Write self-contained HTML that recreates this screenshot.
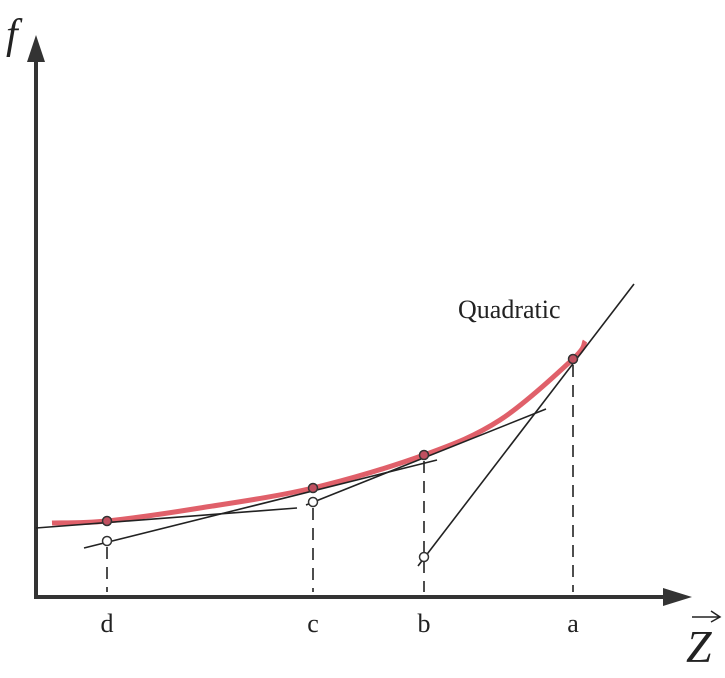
<!DOCTYPE html>
<html><head><meta charset="utf-8"><style>
html,body{margin:0;padding:0;background:#fff;}
svg{display:block;font-family:"Liberation Serif",serif;}
</style></head><body>
<svg id="chart" width="725" height="678" viewBox="0 0 725 678">
<g id="axes">
<line x1="36" y1="598" x2="36" y2="60" stroke="#333" stroke-width="4"/>
<polygon points="36,35 27,62 45,62" fill="#333"/>
<line x1="34" y1="597" x2="665" y2="597" stroke="#333" stroke-width="4"/>
<polygon points="692,597 663,588 663,606" fill="#333"/>
<text x="6" y="48" font-size="42" font-style="italic" fill="#222">f</text>
<text x="686" y="662" font-size="46" font-style="italic" fill="#222">Z</text>
<line x1="692" y1="617" x2="720" y2="617" stroke="#222" stroke-width="1.5"/>
<polyline points="711,611 720,617 711,622" fill="none" stroke="#222" stroke-width="1.5"/>
</g>
<g id="marks"></g>
<text x="458" y="318" font-size="26" fill="#222">Quadratic</text>
</svg>
<script>
const categories = ["d","c","b","a"];
const zValues = [71, 277, 388, 537];
const fValues = [76, 109, 142, 238];
const approxValues = [56, 95, 40];
const curveZ = [16, 71, 164, 277, 388, 464, 537, 549];
const curveF = [74, 76, 89, 109, 142, 177, 238, 256];
const tangentZStart = [0, 48, 270, 382];
const tangentZEnd = [261, 401, 510, 598];
const tangentFStart = [69, 49, 92, 31];
const tangentFEnd = [89, 137, 188, 313];

const xS = v => 36 + v;
const yS = v => 597 - v;
const NS = "http://www.w3.org/2000/svg";
const g = document.getElementById("marks");
function mk(tag, attrs){const e=document.createElementNS(NS,tag);for(const k in attrs)e.setAttribute(k,attrs[k]);g.appendChild(e);return e;}

const pts = curveZ.map((z,i)=>[xS(z), yS(curveF[i])]);
let d = "M"+pts[0][0]+","+pts[0][1];
for(let i=0;i<pts.length-1;i++){
  const p0=pts[Math.max(0,i-1)],p1=pts[i],p2=pts[i+1],p3=pts[Math.min(pts.length-1,i+2)];
  const c1=[p1[0]+(p2[0]-p0[0])/6,p1[1]+(p2[1]-p0[1])/6];
  const c2=[p2[0]-(p3[0]-p1[0])/6,p2[1]-(p3[1]-p1[1])/6];
  d+=` C${c1[0]},${c1[1]} ${c2[0]},${c2[1]} ${p2[0]},${p2[1]}`;
}
const curve = mk("path",{d:d,fill:"none",stroke:"#e0606a","stroke-width":5});



for(let i=0;i<tangentZStart.length;i++){
  const l = mk("line",{x1:xS(tangentZStart[i]),y1:yS(tangentFStart[i]),x2:xS(tangentZEnd[i]),y2:yS(tangentFEnd[i]),stroke:"#222","stroke-width":1.6});
  
  
}

categories.forEach((c,i)=>{
  const x = xS(zValues[i]);
  const top = (i===0 || i===1) ? yS(approxValues[i]) : yS(fValues[i]);
  const dl = mk("line",{x1:x,y1:top+6,x2:x,y2:592,stroke:"#222","stroke-width":1.6,"stroke-dasharray":"12,8"});
  
  
  const t = mk("text",{x:x,y:632,"font-size":26,"text-anchor":"middle",fill:"#222"});
  t.textContent = c;
  
  
  const p = mk("circle",{cx:x,cy:yS(fValues[i]),r:4.5,fill:"#c05060",stroke:"#333","stroke-width":1.5});
  
  
  if(i<3){
    const o = mk("circle",{cx:x,cy:yS(approxValues[i]),r:4.5,fill:"#fff",stroke:"#333","stroke-width":1.5});
    
    
  }
});
</script>
</body></html>
